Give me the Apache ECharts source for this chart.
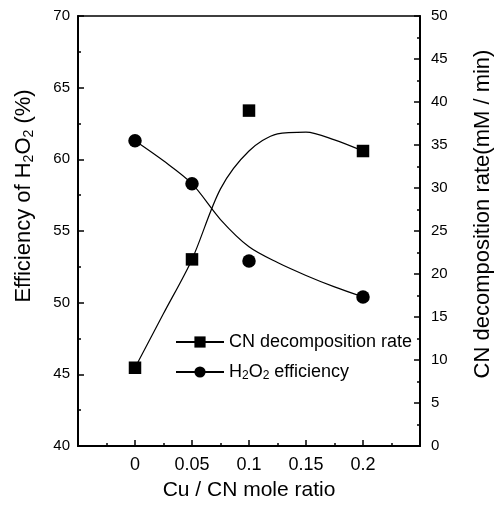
<!DOCTYPE html>
<html>
<head>
<meta charset="utf-8">
<script src="https://cdn.jsdelivr.net/npm/echarts@6/dist/echarts.min.js"></script>
<style>
html,body{margin:0;padding:0;background:#fff;}
#chart{width:502px;height:513px;}
</style>
</head>
<body>
<div id="chart"></div>
<script>
// Measured points
var xValues = [0, 0.05, 0.1, 0.2];
var cnRate = [9.1, 21.7, 39.0, 34.3];
var h2o2Eff = [61.3, 58.3, 52.9, 50.4];
// Fitted curves
var fitX = [0, 0.025, 0.05, 0.075, 0.1, 0.125, 0.15, 0.175, 0.2];
var cnFit = [9.1, 15.4, 21.7, 29.9, 34.3, 36.3, 36.5, 35.6, 34.3];
var h2o2Fit = [61.3, 59.9, 58.3, 55.8, 53.9, 52.8, 51.9, 51.1, 50.4];
// Axis ticks
var xTicks = [0, 0.05, 0.1, 0.15, 0.2];
var leftTicks = [40, 45, 50, 55, 60, 65, 70];
var rightTicks = [0, 5, 10, 15, 20, 25, 30, 35, 40, 45, 50];

var FONT = '"Liberation Sans", Arial, sans-serif';
function pairs(xs, ys) { return xs.map(function (x, i) { return [x, ys[i]]; }); }

var chart = echarts.init(document.getElementById('chart'), null, {renderer: 'canvas'});
var subRich = {
  n: {fontSize: 22, fontFamily: FONT, color: '#000'},
  s: {fontSize: 14, fontFamily: FONT, color: '#000', padding: [10, 0, 0, 0]}
};
var legRich = {
  n: {fontSize: 18, fontFamily: FONT, color: '#000'},
  s: {fontSize: 12, fontFamily: FONT, color: '#000', padding: [8, 0, 0, 0]}
};
var option = {
  backgroundColor: '#fff',
  animation: false,
  grid: {left: 78, right: 82, top: 16, bottom: 67, show: true, borderColor: '#000', borderWidth: 1.5, backgroundColor: 'transparent'},
  legend: {
    orient: 'vertical', left: 170, top: 328, itemWidth: 48, itemHeight: 14, itemGap: 12,
    data: ['CN decomposition rate', 'H2O2 efficiency'],
    formatter: function (name) {
      if (name === 'H2O2 efficiency') return '{n|H}{s|2}{n|O}{s|2}{n| efficiency}';
      return '{n|' + name + '}';
    },
    textStyle: {color: '#000', fontSize: 18, fontFamily: FONT, rich: legRich}
  },
  xAxis: {
    type: 'value', min: -0.05, max: 0.25, interval: 0.05,
    name: 'Cu / CN mole ratio', nameLocation: 'middle', nameGap: 34,
    nameTextStyle: {fontSize: 21, fontFamily: FONT, color: '#000'},
    axisLine: {show: true, onZero: false, lineStyle: {color: '#000', width: 2}},
    axisTick: {show: true, inside: true, length: 6, lineStyle: {color: '#000', width: 1.5}},
    minorTick: {show: true, splitNumber: 2, length: 3, lineStyle: {color: '#000', width: 1.5}},
    splitLine: {show: false},
    axisLabel: {
      color: '#000', fontSize: 18, fontFamily: FONT, margin: 10,
      formatter: function (v) {
        for (var i = 0; i < xTicks.length; i++) if (Math.abs(v - xTicks[i]) < 1e-6) return String(xTicks[i]);
        return '';
      }
    }
  },
  yAxis: [{
    type: 'value', min: leftTicks[0], max: leftTicks[leftTicks.length - 1], interval: 5, position: 'left',
    name: '{n|Efficiency of H}{s|2}{n|O}{s|2}{n| (%)}', nameLocation: 'middle', nameGap: 42, nameRotate: 90,
    nameTextStyle: {fontSize: 22, fontFamily: FONT, color: '#000', rich: subRich, padding: [0, 0, 0, 70]},
    axisLine: {show: true, onZero: false, lineStyle: {color: '#000', width: 2}},
    axisTick: {show: true, inside: true, length: 6, lineStyle: {color: '#000', width: 1.5}},
    minorTick: {show: true, splitNumber: 2, length: 3, lineStyle: {color: '#000', width: 1.5}},
    splitLine: {show: false},
    axisLabel: {color: '#000', fontSize: 15, fontFamily: FONT, margin: 8}
  }, {
    type: 'value', min: rightTicks[0], max: rightTicks[rightTicks.length - 1], interval: 5, position: 'right',
    name: 'CN decomposition rate(mM / min)', nameLocation: 'middle', nameGap: 52, nameRotate: 90,
    nameTextStyle: {fontSize: 22, fontFamily: FONT, color: '#000', padding: [0, 0, 0, 34]},
    axisLine: {show: true, onZero: false, lineStyle: {color: '#000', width: 2}},
    axisTick: {show: true, inside: true, length: 6, lineStyle: {color: '#000', width: 1.5}},
    minorTick: {show: true, splitNumber: 2, length: 3, lineStyle: {color: '#000', width: 1.5}},
    splitLine: {show: false},
    axisLabel: {color: '#000', fontSize: 15, fontFamily: FONT, margin: 11}
  }],
  series: [{
    name: 'CN decomposition rate', type: 'line', yAxisIndex: 1, smooth: 0.3,
    data: pairs(fitX, cnFit), symbol: 'rect', symbolSize: 11, showSymbol: false,
    lineStyle: {color: '#000', width: 1.2}, itemStyle: {color: '#000'}, z: 2
  }, {
    name: 'H2O2 efficiency', type: 'line', yAxisIndex: 0, smooth: 0.3,
    data: pairs(fitX, h2o2Fit), symbol: 'circle', symbolSize: 12, showSymbol: false,
    lineStyle: {color: '#000', width: 1.2}, itemStyle: {color: '#000'}, z: 2
  }, {
    name: 'CN points', type: 'scatter', yAxisIndex: 1,
    data: pairs(xValues, cnRate), symbol: 'rect', symbolSize: 12.5,
    itemStyle: {color: '#000', opacity: 1}, z: 3
  }, {
    name: 'H2O2 points', type: 'scatter', yAxisIndex: 0,
    data: pairs(xValues, h2o2Eff), symbol: 'circle', symbolSize: 13.5,
    itemStyle: {color: '#000', opacity: 1}, z: 3
  }]
};
chart.setOption(option);
</script>
</body>
</html>
